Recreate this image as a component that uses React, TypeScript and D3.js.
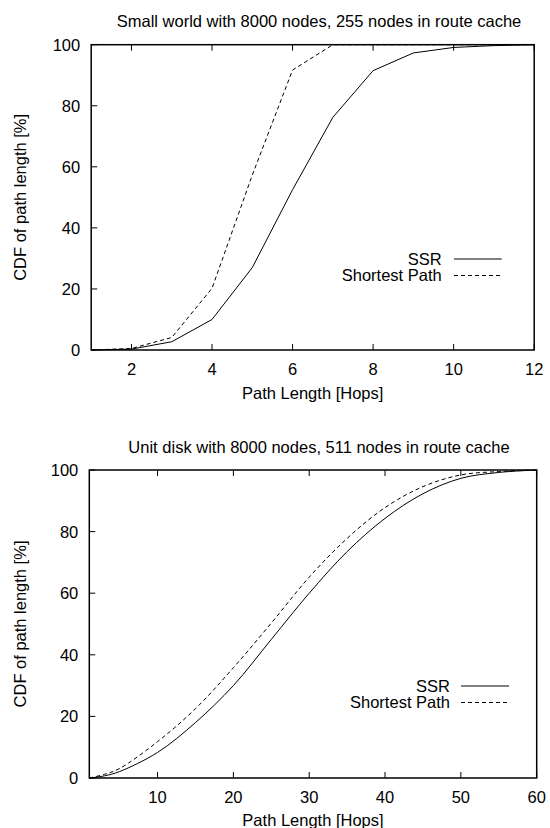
import { useEffect, useRef } from 'react';
import * as d3 from 'd3';

const WIDTH = 550;
const HEIGHT = 828;
const FONT = '"Liberation Sans", Arial, Helvetica, sans-serif';
const FONT_SIZE = 16.5;

// Small world, 8000 nodes, 255 nodes in route cache
const swHops = [1, 2, 3, 4, 5, 6, 7, 8, 9, 10, 11, 12];
const swSSR = [0, 0.3, 2.7, 10, 27, 52.5, 76.2, 91.5, 97.3, 99.1, 99.7, 100];
const swShortest = [0, 0.5, 4.1, 20.2, 57.3, 91.7, 100, 100, 100, 100, 100, 100];
const swTicksX = [2, 4, 6, 8, 10, 12];

// Unit disk, 8000 nodes, 511 nodes in route cache
const udHops = [1, 3, 5, 10, 15, 20, 25, 30, 35, 40, 45, 50, 55, 60];
const udSSR = [0, 0.7, 2.1, 8.3, 18, 30, 45, 60, 73.5, 84.3, 92.3, 97.3, 99.2, 100];
const udShortest = [0, 1.2, 3.1, 11.8, 22.5, 35.8, 50.3, 65.2, 77.8, 87.8, 94.6, 98.4, 99.5, 100];
const udTicksX = [10, 20, 30, 40, 50, 60];

const cdfTicks = [0, 20, 40, 60, 80, 100];
const seriesNames = ['SSR', 'Shortest Path'];

type PanelOpts = {
  title: string;
  box: { left: number; right: number; top: number; bottom: number };
  xDomain: [number, number];
  xTicks: number[];
  hops: number[];
  ssr: number[];
  shortest: number[];
  legend: { textRight: number; lineX0: number; lineX1: number; y: number };
  curve: d3.CurveFactory;
};

function drawPanel(svg: d3.Selection<SVGSVGElement, unknown, null, undefined>, o: PanelOpts) {
  const { box } = o;
  const x = d3.scaleLinear().domain(o.xDomain).range([box.left, box.right]);
  const y = d3.scaleLinear().domain([0, 100]).range([box.bottom, box.top]);
  const g = svg.append('g');
  const tickLen = 6;

  // title
  g.append('text')
    .attr('x', 319)
    .attr('y', box.top - 17.5)
    .attr('text-anchor', 'middle')
    .text(o.title);

  // x ticks, bottom and top (mirrored)
  o.xTicks.forEach((t) => {
    g.append('line')
      .attr('x1', x(t)).attr('x2', x(t))
      .attr('y1', box.bottom).attr('y2', box.bottom - tickLen)
      .attr('stroke', '#000');
    g.append('line')
      .attr('x1', x(t)).attr('x2', x(t))
      .attr('y1', box.top).attr('y2', box.top + tickLen)
      .attr('stroke', '#000');
    g.append('text')
      .attr('x', x(t))
      .attr('y', box.bottom + 24.5)
      .attr('text-anchor', 'middle')
      .text(t);
  });

  // y ticks
  cdfTicks.forEach((t) => {
    g.append('line')
      .attr('x1', box.left).attr('x2', box.left + tickLen)
      .attr('y1', y(t)).attr('y2', y(t))
      .attr('stroke', '#000');
    g.append('text')
      .attr('x', box.left - 11)
      .attr('y', y(t))
      .attr('dy', '0.36em')
      .attr('text-anchor', 'end')
      .text(t);
  });

  // axis labels
  g.append('text')
    .attr('x', (box.left + box.right) / 2)
    .attr('y', Math.min(box.bottom + 49, HEIGHT - 2.5))
    .attr('text-anchor', 'middle')
    .text('Path Length [Hops]');

  g.append('text')
    .attr('transform', `translate(26,${(box.top + box.bottom) / 2}) rotate(-90)`)
    .attr('text-anchor', 'middle')
    .text('CDF of path length [%]');

  // curves
  const line = d3.line<number>()
    .x((_, i) => x(o.hops[i]))
    .y((d) => y(d))
    .curve(o.curve);

  g.append('path')
    .attr('d', line(o.ssr))
    .attr('fill', 'none')
    .attr('stroke', '#000')
    .attr('stroke-width', 1);

  g.append('path')
    .attr('d', line(o.shortest))
    .attr('fill', 'none')
    .attr('stroke', '#000')
    .attr('stroke-width', 1)
    .attr('stroke-dasharray', '4,3');

  // legend
  seriesNames.forEach((name, i) => {
    const ly = o.legend.y + i * 16.5;
    g.append('text')
      .attr('x', o.legend.textRight)
      .attr('y', ly)
      .attr('dy', '0.36em')
      .attr('text-anchor', 'end')
      .text(name);
    g.append('line')
      .attr('x1', o.legend.lineX0).attr('x2', o.legend.lineX1)
      .attr('y1', ly).attr('y2', ly)
      .attr('stroke', '#000')
      .attr('stroke-width', 1)
      .attr('stroke-dasharray', i === 1 ? '4,3' : null);
  });

  // border
  g.append('rect')
    .attr('x', box.left)
    .attr('y', box.top)
    .attr('width', box.right - box.left)
    .attr('height', box.bottom - box.top)
    .attr('fill', 'none')
    .attr('stroke', '#000')
    .attr('stroke-width', 1.5);
}

export default function App() {
  const svgRef = useRef<SVGSVGElement>(null);

  useEffect(() => {
    if (!svgRef.current) return;
    const svg = d3.select(svgRef.current);
    svg.selectAll('*').remove();

    drawPanel(svg, {
      title: 'Small world with 8000 nodes, 255 nodes in route cache',
      box: { left: 91.2, right: 534.2, top: 44.7, bottom: 350 },
      xDomain: [1, 12],
      xTicks: swTicksX,
      hops: swHops,
      ssr: swSSR,
      shortest: swShortest,
      legend: { textRight: 441.7, lineX0: 454, lineX1: 501.7, y: 259 },
      curve: d3.curveLinear,
    });

    drawPanel(svg, {
      title: 'Unit disk with 8000 nodes, 511 nodes in route cache',
      box: { left: 89.3, right: 536.7, top: 470, bottom: 778 },
      xDomain: [1, 60],
      xTicks: udTicksX,
      hops: udHops,
      ssr: udSSR,
      shortest: udShortest,
      legend: { textRight: 450, lineX0: 461, lineX1: 509, y: 686 },
      curve: d3.curveCatmullRom.alpha(0.5),
    });
  }, []);

  return (
    <svg
      ref={svgRef}
      width={WIDTH}
      height={HEIGHT}
      style={{
        position: 'absolute',
        left: 0,
        top: 0,
        background: '#fff',
        fontFamily: FONT,
        fontSize: FONT_SIZE,
        fill: '#000',
      }}
    />
  );
}
